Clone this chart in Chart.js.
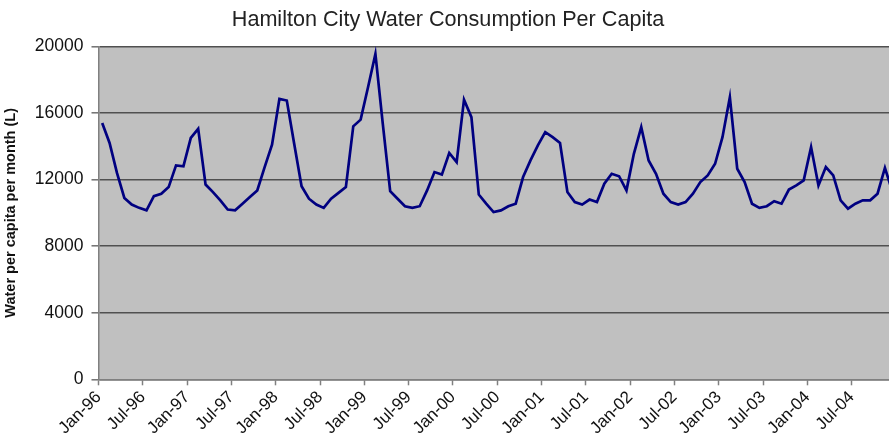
<!DOCTYPE html>
<html>
<head>
<meta charset="utf-8">
<script src="https://cdn.jsdelivr.net/npm/chart.js@4/dist/chart.umd.min.js"></script>
<style>
  html, body { margin: 0; padding: 0; background: #fff; overflow: hidden; }
  #wrap { width: 889px; height: 447px; overflow: hidden; position: relative; }
  canvas { display: block; }
</style>
</head>
<body>
<div id="wrap"><canvas id="chart" width="900" height="447"></canvas></div>
<script>
// Monthly per-capita water use, Hamilton City, Jan 1996 – Dec 2004 (litres)
const years = ['96', '97', '98', '99', '00', '01', '02', '03', '04'];
const monthNames = ['Jan', 'Feb', 'Mar', 'Apr', 'May', 'Jun', 'Jul', 'Aug', 'Sep', 'Oct', 'Nov', 'Dec'];

const consumption = [
  // 1996
  15400, 14200, 12400, 10900, 10500, 10300, 10150, 11000, 11150, 11550, 12850, 12800,
  // 1997
  14500, 15050, 11700, 11250, 10750, 10200, 10150, 10550, 10950, 11350, 12750, 14100,
  // 1998
  16850, 16750, 14150, 11600, 10850, 10500, 10300, 10850, 11200, 11550, 15200, 15600,
  // 1999
  17550, 19550, 15350, 11300, 10850, 10400, 10300, 10400, 11350, 12450, 12300, 13600,
  // 2000
  13050, 16800, 15750, 11100, 10550, 10050, 10150, 10400, 10550, 12150, 13150, 14050,
  // 2001
  14850, 14550, 14200, 11250, 10650, 10500, 10800, 10650, 11750, 12350, 12200, 11350,
  // 2002
  13550, 15150, 13150, 12350, 11150, 10650, 10500, 10650, 11150, 11850, 12250, 12950,
  // 2003
  14550, 16950, 12650, 11850, 10550, 10300, 10400, 10700, 10550, 11400, 11650, 11950,
  // 2004
  13950, 11650, 12750, 12250, 10750, 10250, 10550, 10750, 10750, 11150, 12700, 11300
];

const tickLabels = [
  'Jan-96', 'Jul-96', 'Jan-97', 'Jul-97', 'Jan-98', 'Jul-98', 'Jan-99', 'Jul-99', 'Jan-00',
  'Jul-00', 'Jan-01', 'Jul-01', 'Jan-02', 'Jul-02', 'Jan-03', 'Jul-03', 'Jan-04', 'Jul-04'
];

const yTicks = [0, 4000, 8000, 12000, 16000, 20000];

// month categories, e.g. "Mar-98"
const months = [];
years.forEach(y => monthNames.forEach(m => months.push(m + '-' + y)));

// each month is plotted in the middle of its slot on a month-index axis
const points = consumption.map((v, i) => ({ x: i + 0.5, y: v, month: months[i] }));

const FONT = "'Liberation Sans', Arial, Helvetica, sans-serif";

const plotBackground = {
  id: 'plotBackground',
  beforeDraw(chart) {
    const { ctx, chartArea: a } = chart;
    ctx.save();
    ctx.fillStyle = '#c0c0c0';
    ctx.fillRect(a.left, a.top, a.right - a.left, a.bottom - a.top);
    ctx.restore();
  }
};

new Chart(document.getElementById('chart'), {
  type: 'line',
  data: {
    datasets: [{
      label: 'Water per capita per month (L)',
      data: points,
      borderColor: '#000080',
      borderWidth: 2.7,
      pointRadius: 0,
      tension: 0,
      fill: false
    }]
  },
  options: {
    responsive: false,
    animation: false,
    events: [],
    layout: { padding: { left: 0, right: 4, top: 0, bottom: 0 } },
    plugins: {
      legend: { display: false },
      tooltip: { enabled: false },
      title: {
        display: true,
        text: 'Hamilton City Water Consumption Per Capita',
        color: '#222',
        font: { family: FONT, size: 21.6, weight: 'normal' },
        padding: { top: 7, bottom: 13.5 }
      }
    },
    scales: {
      x: {
        type: 'linear',
        min: 0,
        max: months.length,
        afterBuildTicks(scale) {
          scale.ticks = [];
          for (let v = 0; v <= months.length; v += 6) scale.ticks.push({ value: v });
        },
        afterFit(scale) {
          scale.height = 67.7;
          scale.paddingLeft = 0;
          scale.paddingRight = 0;
        },
        border: { display: true, color: '#808080', width: 1.5 },
        grid: {
          drawOnChartArea: false,
          drawTicks: true,
          tickLength: 6,
          tickColor: '#808080',
          tickWidth: 1.5
        },
        ticks: {
          autoSkip: false,
          minRotation: 45,
          maxRotation: 45,
          padding: 2,
          color: '#111',
          font: { family: FONT, size: 17 },
          callback: (v) => tickLabels[Math.round(v / 6)] ?? ''
        }
      },
      y: {
        min: 0,
        max: 20000,
        afterBuildTicks(scale) {
          scale.ticks = yTicks.map(v => ({ value: v }));
        },
        afterFit(scale) {
          scale.width = 98.5;
          scale.paddingTop = 0;
          scale.paddingBottom = 0;
        },
        border: { display: true, color: '#808080', width: 1.5 },
        grid: {
          color: '#505050',
          lineWidth: 1.6,
          tickLength: 7,
          tickColor: '#707070',
          tickWidth: 1.5
        },
        ticks: {
          padding: 8,
          color: '#111',
          font: { family: FONT, size: 17.5 },
          callback: (v) => String(v)
        },
        title: {
          display: true,
          text: 'Water per capita per month (L)',
          color: '#111',
          font: { family: FONT, size: 14.5, weight: 'bold' },
          padding: { top: 2, bottom: 0 }
        }
      }
    }
  },
  plugins: [plotBackground]
});
</script>
</body>
</html>
